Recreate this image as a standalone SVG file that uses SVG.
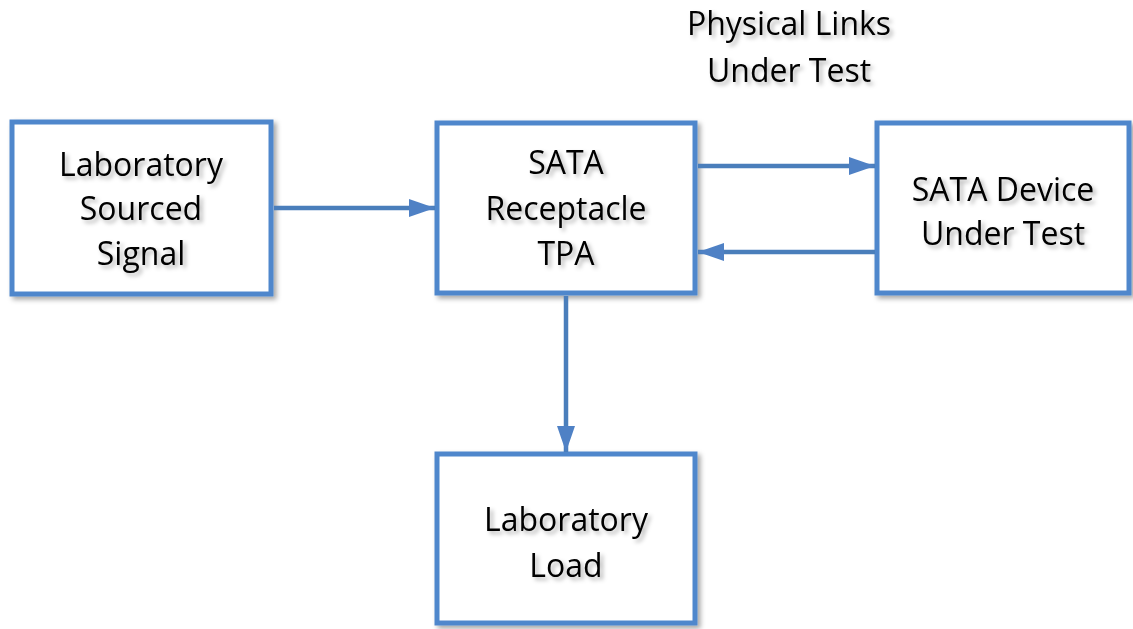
<svg xmlns="http://www.w3.org/2000/svg" width="1133" height="629" viewBox="0 0 1133 629">
<defs>
<filter id="sh" x="-10%" y="-10%" width="125%" height="125%">
<feDropShadow dx="3" dy="3" stdDeviation="2.5" flood-color="#000" flood-opacity="0.35"/>
</filter>
<filter id="tsh" x="-10%" y="-20%" width="125%" height="150%">
<feDropShadow dx="3" dy="3" stdDeviation="2" flood-color="#000" flood-opacity="0.3"/>
</filter>
<marker id="ah" markerUnits="userSpaceOnUse" markerWidth="28" markerHeight="22" refX="26" refY="11" orient="auto">
<path d="M0,2 L26,11 L0,20 Z" fill="#4F81C5"/>
</marker>
</defs>
<style>
.box{fill:#fff;stroke:#4F87CC;stroke-width:5;filter:url(#sh)}
.t{font-family:"Open Sans","Liberation Sans",sans-serif;font-size:32px;fill:#000;text-anchor:middle;filter:url(#tsh)}
.c{stroke:#4A7EBB;stroke-width:4.5;fill:none;marker-end:url(#ah)}
</style>
<rect width="1133" height="629" fill="#fff"/>
<g id="title">
<text class="t" x="789" y="35">Physical Links</text>
<text class="t" x="789" y="82">Under Test</text>
</g>
<g id="source">
<rect class="box" x="12" y="122" width="259" height="172"/>
<text class="t" x="141" y="176">Laboratory</text>
<text class="t" x="141" y="220">Sourced</text>
<text class="t" x="141" y="265">Signal</text>
</g>
<g id="tpa">
<rect class="box" x="437" y="123" width="258" height="170"/>
<text class="t" x="566" y="174">SATA</text>
<text class="t" x="566" y="220">Receptacle</text>
<text class="t" x="566" y="265">TPA</text>
</g>
<g id="device">
<rect class="box" x="877" y="123" width="252" height="170"/>
<text class="t" x="1003" y="201">SATA Device</text>
<text class="t" x="1003" y="245">Under Test</text>
</g>
<g id="load">
<rect class="box" x="437" y="454" width="258" height="169"/>
<text class="t" x="566" y="531">Laboratory</text>
<text class="t" x="566" y="577">Load</text>
</g>
<g id="connectors">
<line class="c" x1="274" y1="208" x2="435" y2="208"/>
<line class="c" x1="698" y1="166" x2="875" y2="166"/>
<line class="c" x1="875" y1="252" x2="698" y2="252"/>
<line class="c" x1="566" y1="296" x2="566" y2="452"/>
</g>
</svg>
